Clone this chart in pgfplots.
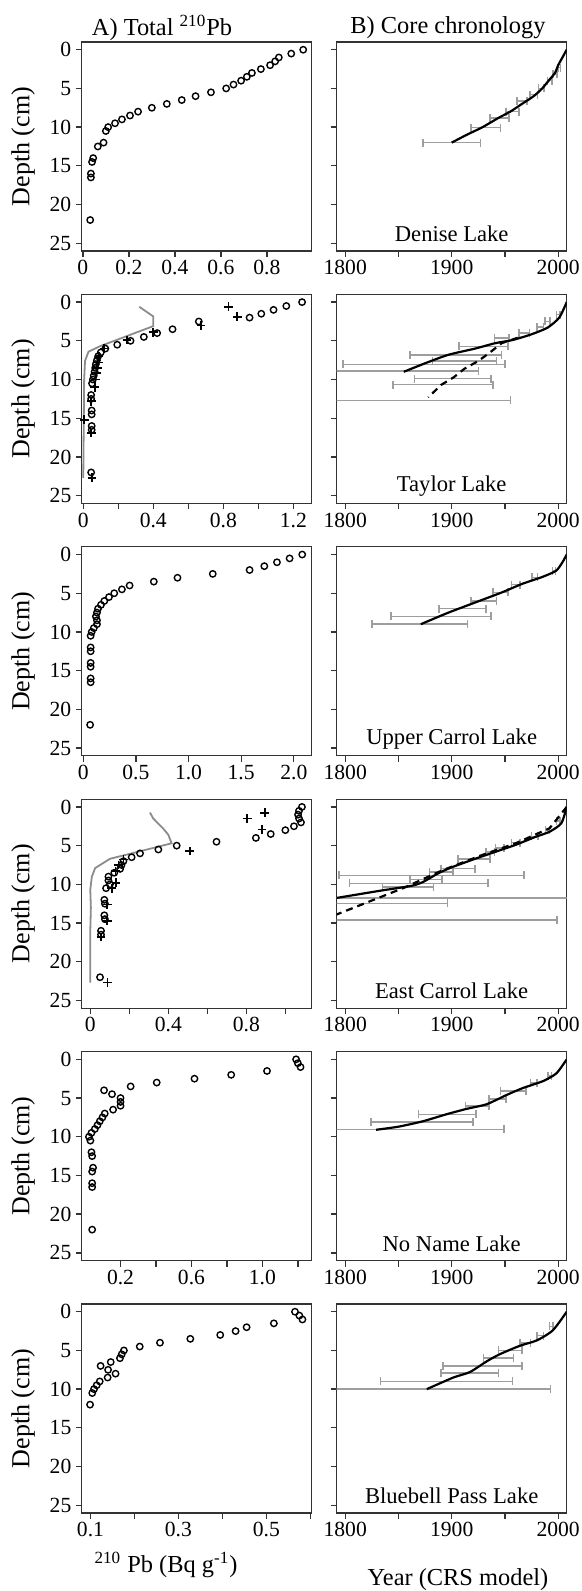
\documentclass[border=0pt]{standalone}
\usepackage{pgfplots}
\pgfplotsset{compat=1.18}
\usepackage{fontspec}
\setmainfont{Liberation Serif}
\definecolor{ebar}{gray}{0.62}
\definecolor{gline}{gray}{0.55}
\definecolor{axc}{gray}{0.2}
\tikzset{lname/.style={font=\fontsize{11.3}{13}\selectfont}}
\pgfplotsset{
 basepanel/.style={scale only axis, width=115pt, height=104.5pt, y dir=reverse, ymin=-1, ymax=26,
   ytick={0,5,10,15,20,25}, tick align=outside, xtick pos=lower, ytick pos=left,
   major tick length=3pt, axis line style={axc, line width=0.65pt}, tick style={axc, line width=0.65pt},
   ticklabel style={font=\fontsize{10.8}{12}\selectfont}, xticklabel style={inner sep=1.5pt},
   yticklabel style={inner sep=2pt}, clip=true},
 lpanel/.style={basepanel, yticklabels={0,5,10,15,20,25}},
 rpanel/.style={basepanel, xmin=1792, xmax=2008, xtick={1800,1850,1900,1950,2000},
   xticklabels={1800,,1900,,2000}, yticklabels={}},
 circ/.style={only marks, mark=o, mark size=1.6pt, mark options={line width=0.7pt, black}},
 plus/.style={only marks, mark=+, mark size=2.2pt, mark options={line width=0.85pt, black}},
 gl/.style={gline, line width=0.9pt, mark=none},
 bl/.style={black, line width=1.1pt, mark=none, smooth, tension=0.4},
 dl/.style={black, line width=1.1pt, mark=none, dash pattern=on 3.5pt off 2.5pt},
 eb/.style={draw=none, mark=none, error bars/.cd, x dir=both, x explicit, error mark=|,
   error bar style={draw=ebar, line width=0.75pt},
   error mark options={draw=ebar, line width=0.75pt, mark size=2pt}},
}
\begin{document}
\begin{tikzpicture}
\path[use as bounding box] (0,0) rectangle (291pt,795.5pt);
\node[font=\fontsize{12.2}{14}\selectfont] at (81pt,781.5pt) {A) Total \textsuperscript{210}Pb};
\node[font=\fontsize{12.2}{14}\selectfont] at (224pt,781.5pt) {B) Core chronology};
\node[font=\fontsize{12.2}{14}\selectfont] at (83pt,13pt) {\textsuperscript{210} Pb (Bq g\textsuperscript{-1})};
\node[font=\fontsize{12.2}{14}\selectfont] at (229pt,5.5pt) {Year (CRS model)};
\foreach \yc in {722.25,596.05,469.85,343.65,217.45,91.25}{
  \node[rotate=90,font=\fontsize{13}{15}\selectfont] at (11.5pt,\yc pt) {Depth (cm)};
}
% ---------- Row 1 Denise ----------
\begin{axis}[lpanel, at={(40.85pt,774.5pt)}, anchor=north west, xmin=-0.005, xmax=0.995,
  xtick={0,0.2,0.4,0.6,0.8}, xticklabels={0,0.2,0.4,0.6,0.8}]
\addplot[circ] table[x=v,y=d]{
v d
0.958 0
0.906 0.5
0.852 1.0
0.836 1.5
0.814 2.0
0.774 2.5
0.735 3.0
0.713 3.5
0.688 4.0
0.655 4.5
0.623 5.0
0.557 5.5
0.49 6.0
0.43 6.5
0.365 7.0
0.30 7.5
0.24 8.0
0.205 8.5
0.17 9.0
0.14 9.5
0.11 10.0
0.10 10.5
0.09 12.0
0.065 12.5
0.045 14.0
0.04 14.5
0.035 16.0
0.035 16.5
0.032 22.0
};
\end{axis}
\begin{axis}[rpanel, at={(168.35pt,774.5pt)}, anchor=north west]
\addplot[eb] table[x=yr,y=d,x error plus=ep,x error minus=em]{
yr d em ep
1900 12.0 27 27
1932 10.05 14 14
1945 8.8 9 9
1957 8.0 6 6
1966 6.65 4.5 4.5
1977 5.8 3.5 3.5
1984 5.0 2.5 2.5
1992 4.0 2 2
1997 3.2 2 2
2001 2.3 1.2 1.2
};
\addplot[bl] table[x=yr,y=d]{
yr d
2008 0
2004 1.0
2000 2.0
1997 3.0
1991 4.0
1985 5.0
1977 6.0
1966 7.0
1955 8.0
1944 8.8
1929 10.0
1914 11.0
1900 12.0
};
\node[lname] at (axis cs:1900,23.8) {Denise Lake};
\end{axis}
% ---------- Row 2 Taylor ----------
\begin{axis}[lpanel, at={(40.85pt,648.3pt)}, anchor=north west, xmin=-0.009, xmax=1.305,
  xtick={0,0.2,0.4,0.6,0.8,1.0,1.2}, xticklabels={0,,0.4,,0.8,,1.2}]
\addplot[gl] table[x=v,y=d]{
v d
0.32 0.6
0.40 1.85
0.40 3.1
0.095 5.7
0.03 6.4
0.01 7.6
0.005 10
0.0 22.7
};
\addplot[circ] table[x=v,y=d]{
v d
1.25 0
1.16 0.5
1.087 1.0
1.017 1.5
0.95 2.0
0.66 2.5
0.51 3.5
0.422 4.0
0.346 4.5
0.27 5.0
0.194 5.5
0.126 6.0
0.10 6.5
0.085 7.0
0.078 7.5
0.072 8.0
0.068 8.5
0.065 9.0
0.06 9.5
0.055 10.0
0.05 10.5
0.045 12.0
0.045 12.5
0.048 14.0
0.048 14.5
0.048 16.0
0.048 16.5
0.045 22.0
};
\addplot[plus] table[x=v,y=d]{
v d
0.83 0.6
0.88 1.9
0.673 3.0
0.40 3.9
0.25 4.9
0.12 6.0
0.09 7.0
0.085 7.8
0.08 8.5
0.075 9.2
0.07 10.0
0.065 11.0
0.045 12.8
0.005 15.2
0.045 16.9
0.05 22.7
};
\end{axis}
\begin{axis}[rpanel, at={(168.35pt,648.3pt)}, anchor=north west]
\addplot[eb] table[x=yr,y=d,x error plus=ep,x error minus=em]{
yr d em ep
1870 12.7 85 85
1892 10.65 47 47
1901 9.87 36 36
1855 8.9 70 70
1874 8.05 76 76
1912 7.6 30 30
1904 6.8 43 43
1930 5.7 23 23
1947 4.65 7 7
1968 4.0 5 5
1983 3.2 3 3
1990 2.5 2.5 2.5
2000 1.6 1.5 1.5
};
\addplot[dl] table[x=yr,y=d]{
yr d
1962 4.6
1947 5.3
1935 6.6
1925 7.6
1912 8.6
1902 9.7
1890 10.7
1878 12.3
};
\addplot[bl] table[x=yr,y=d]{
yr d
2008 0
2001 2.0
1990 3.3
1974 4.2
1957 4.9
1941 5.3
1922 6.0
1897 6.8
1875 7.9
1855 9.0
};
\node[lname] at (axis cs:1900,23.8) {Taylor Lake};
\end{axis}
% ---------- Row 3 Upper Carrol ----------
\begin{axis}[lpanel, at={(40.85pt,522.1pt)}, anchor=north west, xmin=-0.015, xmax=2.17,
  xtick={0,0.5,1,1.5,2}, xticklabels={0,0.5,1.0,1.5,2.0}]
\addplot[circ] table[x=v,y=d]{
v d
2.08 0
1.96 0.5
1.84 1.0
1.72 1.5
1.58 2.0
1.23 2.5
0.895 3.0
0.67 3.5
0.44 4.0
0.367 4.5
0.294 5.0
0.244 5.5
0.2 6.0
0.168 6.5
0.14 7.0
0.13 7.5
0.12 8.0
0.13 8.5
0.13 9.0
0.1 9.5
0.08 10.0
0.07 10.5
0.07 12.0
0.07 12.5
0.07 14.0
0.07 14.5
0.07 16.0
0.07 16.5
0.065 22.0
};
\end{axis}
\begin{axis}[rpanel, at={(168.35pt,522.1pt)}, anchor=north west]
\addplot[eb] table[x=yr,y=d,x error plus=ep,x error minus=em]{
yr d em ep
1870 9.0 45 45
1890 8.0 47 47
1910 7.0 22 22
1930 6.0 12 12
1946 4.9 7 7
1960 3.9 4 4
1978 2.95 2.8 2.8
1996 2.07 1.5 1.5
};
\addplot[bl] table[x=yr,y=d]{
yr d
2008 0
2004 1.0
1998 2.1
1985 2.9
1966 3.8
1947 4.9
1922 6.2
1897 7.5
1871 9.0
};
\node[lname] at (axis cs:1900,23.8) {Upper Carrol Lake};
\end{axis}
% ---------- Row 4 East Carrol ----------
\begin{axis}[lpanel, at={(40.85pt,395.9pt)}, anchor=north west, xmin=-0.044, xmax=1.135,
  xtick={0,0.2,0.4,0.6,0.8,1.0}, xticklabels={0,,0.4,,0.8,}]
\addplot[gl] table[x=v,y=d]{
v d
0.306 0.73
0.323 1.5
0.374 2.8
0.40 3.6
0.417 4.7
0.101 6.7
0.025 7.9
0.008 9.0
0.0 10.7
0.003 13
0.0 16
0.0 22.7
};
\addplot[circ] table[x=v,y=d]{
v d
1.085 0
1.07 0.5
1.065 1.0
1.07 1.5
1.08 2.0
1.044 2.5
1.0 3.0
0.925 3.5
0.849 4.0
0.647 4.5
0.443 5.0
0.349 5.5
0.255 6.0
0.212 6.5
0.17 7.0
0.16 7.5
0.153 8.0
0.123 8.5
0.093 9.0
0.093 9.5
0.101 10.0
0.081 10.5
0.072 12.0
0.075 12.5
0.072 14.0
0.075 14.5
0.055 16.0
0.055 16.5
0.05 22.0
};
\addplot[plus] table[x=v,y=d]{
v d
0.895 0.75
0.804 1.5
0.88 2.9
0.51 5.7
0.17 6.8
0.144 7.5
0.13 8.3
0.132 9.8
0.11 10.5
0.087 12.6
0.087 14.7
0.055 16.8
0.088 22.7
};
\end{axis}
\begin{axis}[rpanel, at={(168.35pt,395.9pt)}, anchor=north west]
\addplot[eb] table[x=yr,y=d,x error plus=ep,x error minus=em]{
yr d em ep
1860 14.63 139 139
1830 12.47 66 66
1900 11.77 130 130
1859 10.37 24 24
1869 9.86 65 65
1876 9.4 15 15
1881 8.85 87 87
1890 8.4 11 11
1906 7.98 16 16
1921 6.7 15 15
1936 5.8 4 4
1945 5.3 4 4
1960 4.6 4 4
1978 3.8 3 3
1990 3.0 2 2
2000 1.8 1.5 1.5
};
\addplot[dl] table[x=yr,y=d]{
yr d
2008 0
1992 2.75
1960 4.7
1928 6.24
1891 8.2
1856 10.4
1790 14.0
};
\addplot[bl] table[x=yr,y=d]{
yr d
2008 0
2003 2.1
1992 3.2
1979 3.85
1960 4.9
1941 5.8
1922 6.7
1900 7.8
1887 8.6
1873 9.7
1862 10.2
1834 10.8
1790 11.8
};
\node[lname] at (axis cs:1900,23.8) {East Carrol Lake};
\end{axis}
% ---------- Row 5 No Name ----------
\begin{axis}[lpanel, at={(40.85pt,269.7pt)}, anchor=north west, xmin=-0.019, xmax=1.278,
  xtick={0.2,0.4,0.6,0.8,1.0,1.2}, xticklabels={0.2,,0.6,,1.0,}]
\addplot[circ] table[x=v,y=d]{
v d
1.19 0
1.20 0.5
1.215 1.0
1.026 1.5
0.824 2.0
0.617 2.5
0.404 3.0
0.257 3.5
0.107 4.0
0.152 4.5
0.2 5.0
0.2 5.5
0.2 6.0
0.158 6.5
0.111 7.0
0.098 7.5
0.083 8.0
0.07 8.5
0.055 9.0
0.036 9.5
0.022 10.0
0.03 10.5
0.036 12.0
0.04 12.5
0.045 14.0
0.04 14.5
0.04 16.0
0.04 16.5
0.04 22.0
};
\end{axis}
\begin{axis}[rpanel, at={(168.35pt,269.7pt)}, anchor=north west]
\addplot[eb] table[x=yr,y=d,x error plus=ep,x error minus=em]{
yr d em ep
1829 9.05 120 120
1872 8.1 48 48
1896 7.1 27 27
1924 6.0 11 11
1943 5.1 8 8
1958 4.1 12 12
1977 3.06 3 3
1992 2.16 1.5 1.5
};
\addplot[bl] table[x=yr,y=d]{
yr d
2008 0
1998.4 1.8
1986 2.8
1967 3.7
1951.6 4.6
1932.8 5.8
1914 6.4
1895 7.1
1873 8.0
1850 8.7
1829 9.1
};
\node[lname] at (axis cs:1900,23.8) {No Name Lake};
\end{axis}
% ---------- Row 6 Bluebell ----------
\begin{axis}[lpanel, at={(40.85pt,143.5pt)}, anchor=north west, xmin=0.08, xmax=0.603,
  xtick={0.1,0.2,0.3,0.4,0.5,0.6}, xticklabels={0.1,,0.3,,0.5,}]
\addplot[circ] table[x=v,y=d]{
v d
0.565 0
0.575 0.5
0.582 1.0
0.517 1.5
0.455 2.0
0.43 2.5
0.395 3.0
0.327 3.5
0.258 4.0
0.212 4.5
0.176 5.0
0.171 5.5
0.167 6.0
0.146 6.5
0.123 7.0
0.14 7.5
0.157 8.0
0.139 8.5
0.121 9.0
0.114 9.5
0.108 10.0
0.104 10.5
0.099 12.0
};
\end{axis}
\begin{axis}[rpanel, at={(168.35pt,143.5pt)}, anchor=north west]
\addplot[eb] table[x=yr,y=d,x error plus=ep,x error minus=em]{
yr d em ep
1877 10.0 116 116
1895 9.0 62 62
1917 7.9 27 27
1929 7.0 37 37
1944 6.0 14 14
1955 5.0 11 11
1969 4.05 5 5
1983 3.1 3 3
1993.5 1.9 1.5 1.5
};
\addplot[bl] table[x=yr,y=d]{
yr d
2008 0
1995 2.4
1980 3.7
1964 4.4
1945 5.5
1933 6.4
1917 7.8
1901.5 8.5
1876.6 10.0
};
\node[lname] at (axis cs:1900,23.8) {Bluebell Pass Lake};
\end{axis}
\end{tikzpicture}
\end{document}
